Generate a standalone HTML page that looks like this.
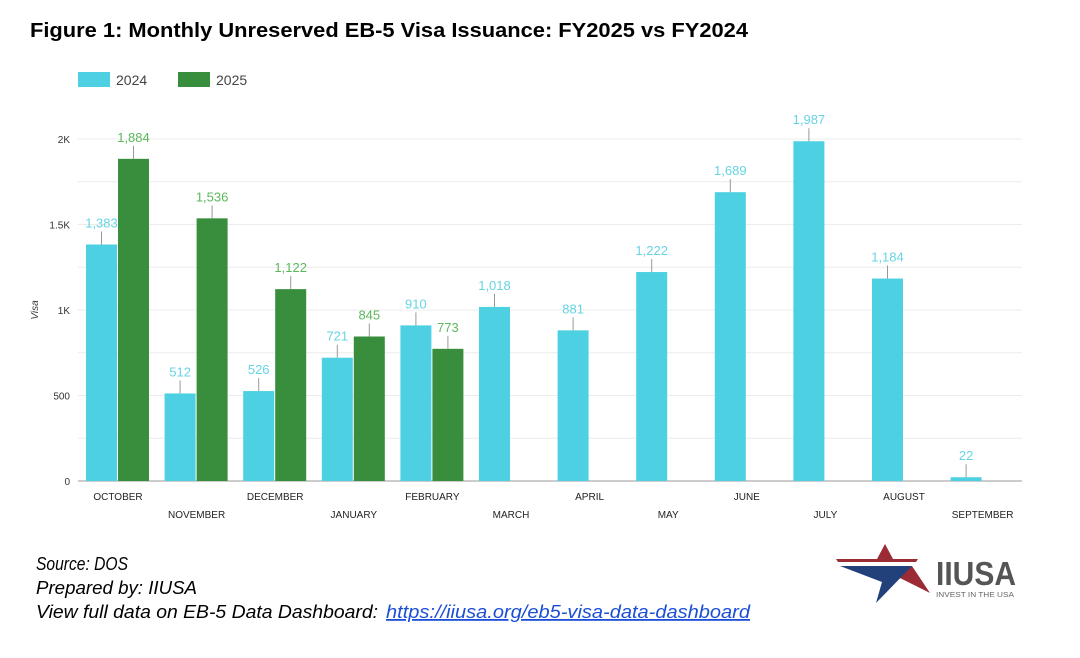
<!DOCTYPE html>
<html><head><meta charset="utf-8"><style>
body{margin:0;background:#fff;width:1080px;height:653px;overflow:hidden;font-family:"Liberation Sans",sans-serif}
</style></head><body>
<svg width="1080" height="653" viewBox="0 0 1080 653" xmlns="http://www.w3.org/2000/svg">
<text x="30" y="37" font-size="20" font-weight="bold" fill="#000" textLength="718" lengthAdjust="spacingAndGlyphs">Figure 1: Monthly Unreserved EB-5 Visa Issuance: FY2025 vs FY2024</text>
<g>
<rect x="78" y="72" width="32" height="15" fill="#4dd0e1"/>
<text x="116" y="85" font-size="14" fill="#444">2024</text>
<rect x="178" y="72" width="32" height="15" fill="#388e3c"/>
<text x="216" y="85" font-size="14" fill="#444">2025</text>
</g>
<text transform="translate(38,310) rotate(-90)" font-size="10" font-style="italic" fill="#333" text-anchor="middle">Visa</text>
<g id="grid"></g><g id="bars"></g>
<text x="36" y="570" font-size="18" font-style="italic" fill="#000" textLength="92" lengthAdjust="spacingAndGlyphs">Source: DOS</text>
<text x="36" y="594" font-size="18" font-style="italic" fill="#000" textLength="161" lengthAdjust="spacingAndGlyphs">Prepared by: IIUSA</text>
<text x="36" y="618" font-size="18" font-style="italic" fill="#000" textLength="342" lengthAdjust="spacingAndGlyphs">View full data on EB-5 Data Dashboard:</text>
<text x="386" y="618" font-size="18" font-style="italic" fill="#1a4fd6" text-decoration="underline" textLength="364" lengthAdjust="spacingAndGlyphs">https://iiusa.org/eb5-visa-data-dashboard</text>
<g>
<polygon points="885,544 893,559 877,559" fill="#9b2c35"/>
<polygon points="836,559 918,559 916,562 838,562" fill="#9b2c35"/>
<polygon points="912,566 930,593 898,577 906,566" fill="#9b2c35"/>
<polygon points="840,566 912,566 876,603 882,582" fill="#22407a"/>
<text x="936" y="585" font-size="33" font-weight="bold" fill="#555" textLength="80" lengthAdjust="spacingAndGlyphs">IIUSA</text>
<text x="936" y="597" font-size="7.5" fill="#666" textLength="78" lengthAdjust="spacingAndGlyphs">INVEST IN THE USA</text>
</g>
</svg>
<script>
const months=["OCTOBER","NOVEMBER","DECEMBER","JANUARY","FEBRUARY","MARCH","APRIL","MAY","JUNE","JULY","AUGUST","SEPTEMBER"];
const v2024=[1383,512,526,721,910,1018,881,1222,1689,1987,1184,22];
const v2025=[1884,1536,1122,845,773,null,null,null,null,null,null,null];
const yTicks=[0,500,1000,1500,2000];
const yTickLabels=["0","500","1K","1.5K","2K"];
const NS="http://www.w3.org/2000/svg";
const y0=481,pxPer=342/2000,x0=118,step=78.6,bw=31;
const y=v=>y0-v*pxPer;
function mk(t,a,p){const e=document.createElementNS(NS,t);for(const k in a)e.setAttribute(k,a[k]);p.appendChild(e);return e;}
const g=document.getElementById('grid'),b=document.getElementById('bars');
for(let v=0;v<=2000;v+=250){
const l=mk('line',{x1:78,x2:1022,y1:y(v),y2:y(v),stroke:v===0?'#999':'#ececec','stroke-width':1},g);


}
yTicks.forEach((v,i)=>{const t=mk('text',{x:70,y:y(v)+4,'font-size':10,fill:'#333','text-anchor':'end'},g);t.textContent=yTickLabels[i];

});
function bar(v,x,fill,lab){
const r=mk('rect',{x:x,y:y(v),width:bw,height:v*pxPer,fill:fill},b);


const cx=x+bw/2;
const ln=mk('line',{x1:cx,x2:cx,y1:y(v),y2:y(v)-13,stroke:'#999','stroke-width':1},b);


const t=mk('text',{x:cx,y:y(v)-17,'font-size':13,fill:lab,'text-anchor':'middle'},b);
t.textContent=v.toLocaleString('en-US');


}
months.forEach((m,i)=>{
const c=x0+i*step;
bar(v2024[i],c-bw-1,'#4dd0e1','#66d4e4');
if(v2025[i]!=null)bar(v2025[i],c,'#388e3c','#5cb85c');
const t=mk('text',{x:c,y:i%2?518:500,'font-size':10,fill:'#222','text-anchor':'middle'},b);
t.textContent=m;


});
</script>
</body></html>
